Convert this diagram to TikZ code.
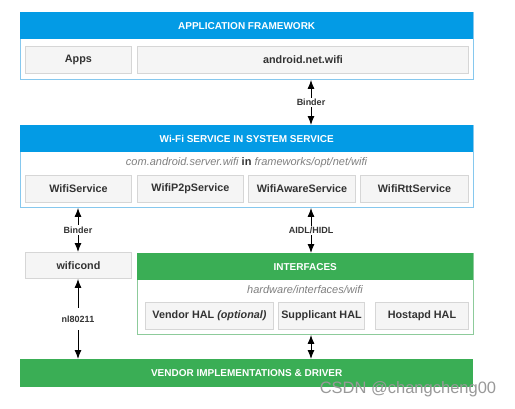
\documentclass[tikz,border=0pt]{standalone}
\usepackage{fontspec}
\setmainfont{Liberation Sans}
\usetikzlibrary{arrows.meta}
\definecolor{hblue}{HTML}{039BE5}
\definecolor{bblue}{HTML}{86C8EE}
\definecolor{hgreen}{HTML}{3AAE55}
\definecolor{bgreen}{HTML}{8DCB9B}
\definecolor{cellfill}{HTML}{F5F5F5}
\definecolor{cellline}{HTML}{D6D6D6}
\definecolor{txt}{HTML}{333333}
\definecolor{subtxt}{HTML}{808080}
\begin{document}
\begin{tikzpicture}[x=1pt,y=-1pt,
  box/.style={draw, line width=0.9pt, inner sep=0pt, anchor=north west},
  hdr/.style={inner sep=0pt, anchor=north west, text=white, font=\fontsize{10}{12}\selectfont\bfseries},
  cell/.style={draw=cellline, fill=cellfill, line width=0.9pt, inner sep=0pt, anchor=north west, minimum height=27pt, text=txt, font=\fontsize{10.8}{13}\selectfont\bfseries},
  sub/.style={inner sep=0pt, text=subtxt, font=\fontsize{11}{13}\selectfont\itshape},
  lbl/.style={fill=white, inner sep=1.5pt, text=txt, font=\fontsize{9}{11}\selectfont\bfseries},
  arr/.style={{Latex[length=9pt,width=7pt]}-{Latex[length=9pt,width=7pt]}, line width=1pt, black}
]
\useasboundingbox (0,0) rectangle (515,408);
\fill[white] (0,0) rectangle (515,408);

% Application framework
\node[box, draw=bblue, minimum width=453pt, minimum height=67pt] (af) at (20,12) {};
\node[hdr, fill=hblue, minimum width=453pt, minimum height=27pt] (afh) at (20,12) {APPLICATION FRAMEWORK};
\node[cell, minimum width=106pt] (apps) at (25,46) {Apps};
\node[cell, minimum width=331pt] (anw) at (137,46) {android.net.wifi};

% Wi-Fi service
\node[box, draw=bblue, minimum width=453pt, minimum height=82pt] (wss) at (20,125) {};
\node[hdr, fill=hblue, minimum width=453pt, minimum height=27pt] (wssh) at (20,125) {Wi-Fi SERVICE IN SYSTEM SERVICE};
\node[sub] (wsssub) at (246.5,163) {com.android.server.wifi {\upshape\bfseries\color{txt}in} frameworks/opt/net/wifi};
\node[cell, minimum width=106pt] (ws) at (25,175) {WifiService};
\node[cell, minimum width=106pt] (p2p) at (137,175) {WifiP2pService};
\node[cell, minimum width=107pt] (aware) at (248,175) {WifiAwareService};
\node[cell, minimum width=108pt] (rtt) at (360,175) {WifiRttService};

% wificond
\node[cell, minimum width=106pt, minimum height=26pt] (wificond) at (25,252) {wificond};

% Interfaces
\node[box, draw=bgreen, minimum width=336pt, minimum height=81pt] (ifc) at (137,253) {};
\node[hdr, fill=hgreen, minimum width=336pt, minimum height=27pt] (ifch) at (137,253) {INTERFACES};
\node[sub] (ifcsub) at (305,290) {hardware/interfaces/wifi};
\node[cell, minimum width=128pt] (vhal) at (145,302) {Vendor HAL \textit{(optional)}};
\node[cell, minimum width=86pt] (shal) at (278,302) {Supplicant HAL};
\node[cell, minimum width=93pt] (hhal) at (375,302) {Hostapd HAL};

% Vendor
\node[hdr, fill=hgreen, minimum width=453pt, minimum height=28pt] (vend) at (20,359) {VENDOR IMPLEMENTATIONS \& DRIVER};

% connectors
\coordinate (cx) at (311,0);
\coordinate (lx) at (78,0);
\draw[arr] (cx |- af.south) -- node[lbl] {Binder} (cx |- wss.north);
\draw[arr] (lx |- wss.south) -- node[lbl] {Binder} (lx |- wificond.north);
\draw[arr] (cx |- wss.south) -- node[lbl] {AIDL/HIDL} (cx |- ifc.north);
\draw[arr] (lx |- wificond.south) -- node[lbl, inner ysep=8pt] {nl80211} (lx |- vend.north);
\draw[arr] (cx |- ifc.south) -- (cx |- vend.north);

% watermark
\node[inner sep=0pt, text=gray!80, font=\fontsize{16.5}{18}\selectfont] (wm) at (408,389) {CSDN @changcheng00};
\end{tikzpicture}
\end{document}
